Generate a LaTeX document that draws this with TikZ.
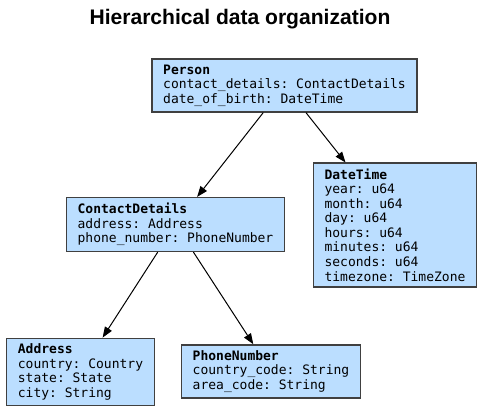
\documentclass[tikz,border=0pt]{standalone}
\usepackage{fontspec}
\setmainfont{Liberation Sans}
\setmonofont{DejaVu Sans Mono}
\usetikzlibrary{arrows.meta}
\definecolor{boxblue}{RGB}{187,222,255}
\definecolor{boxline}{RGB}{64,64,64}

\begin{document}
\begin{tikzpicture}
	[x=0.75pt,y=-0.75pt,
	>={Triangle[length=8pt,width=6pt]},
	every node/.style={draw=boxline,line width=1pt,fill=boxblue,align=left,
		inner xsep=8.5pt,inner ysep=4.2pt,
		font=\ttfamily\fontsize{9.75}{10.9}\selectfont}]
	\useasboundingbox (0,0) rectangle (483,412);
	\node (title) [draw=none,fill=none,font=\bfseries\fontsize{15.8}{18}\selectfont] at (240,19) {Hierarchical data organization};
	\node (person) at (284.5,85.5) {\textbf{Person}\\contact\_details: ContactDetails\\date\_of\_birth: DateTime};
	\node (datetime) at (395,225) {\textbf{DateTime}\\year: u64\\month: u64\\day: u64\\hours: u64\\minutes: u64\\seconds: u64\\timezone: TimeZone};
	\node (contact) at (175.5,224.5) {\textbf{ContactDetails}\\address: Address\\phone\_number: PhoneNumber};
	\node (address) at (80.5,372) {\textbf{Address}\\country: Country\\state: State\\city: String};
	\node (phone) at (271,371.5) {\textbf{PhoneNumber}\\country\_code: String\\area\_code: String};
	\draw [->,line width=0.75pt] (person) -- (contact);
	\draw [->,line width=0.75pt] (person) -- (datetime);
	\draw [->,line width=0.75pt] (contact) -- (address);
	\draw [->,line width=0.75pt] (contact) -- (phone);
\end{tikzpicture}
\end{document}
